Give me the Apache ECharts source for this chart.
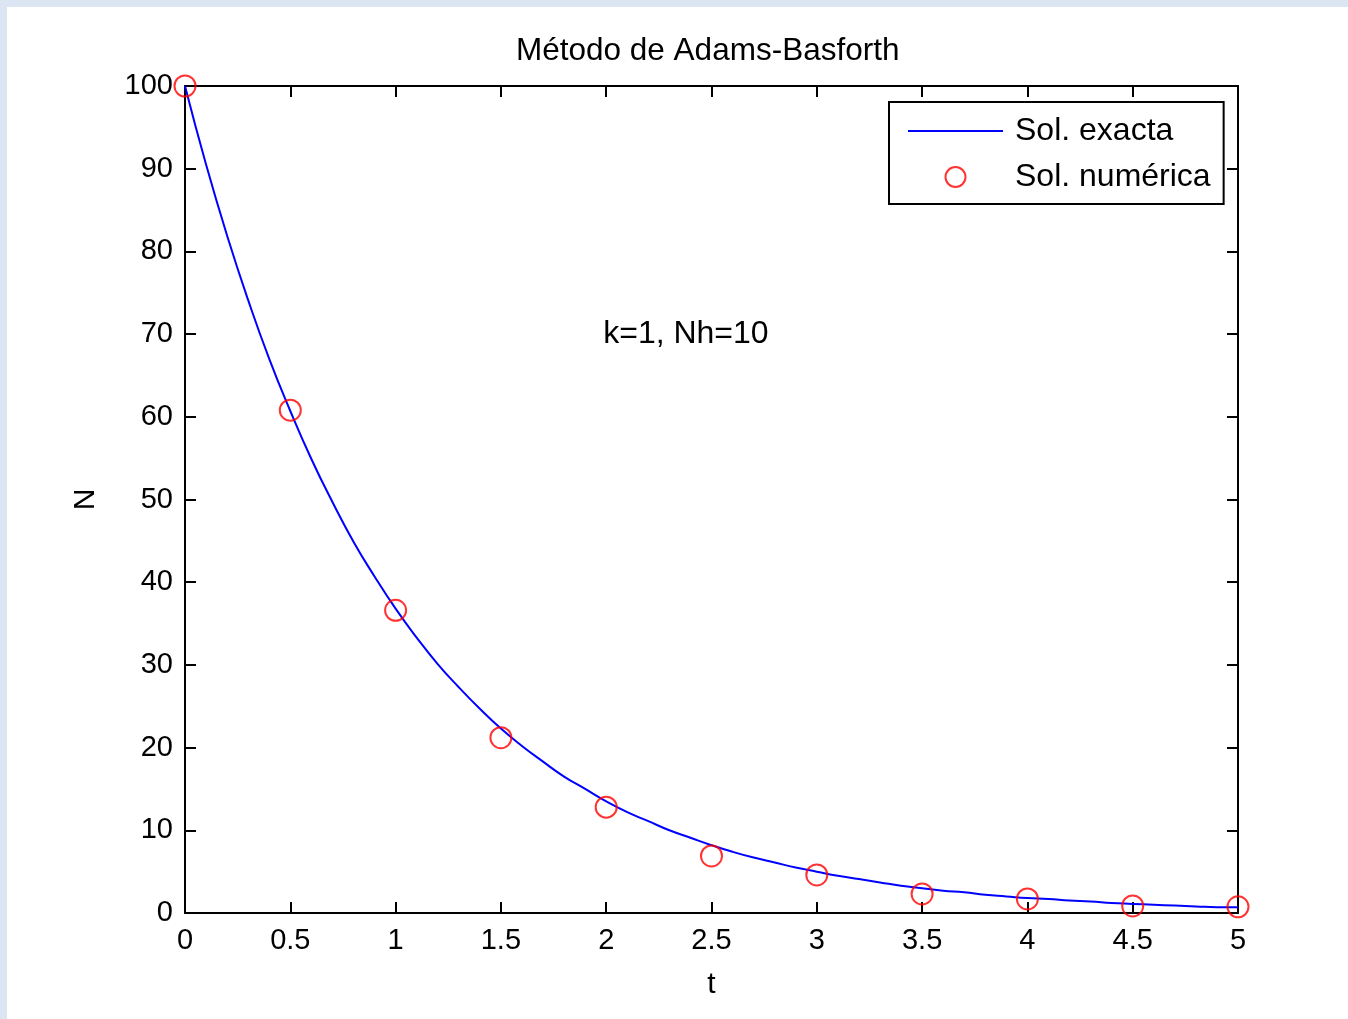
<!DOCTYPE html>
<html>
<head>
<meta charset="utf-8">
<script src="https://cdn.jsdelivr.net/npm/echarts@6/dist/echarts.min.js"></script>
<style>
html,body{margin:0;padding:0;width:1348px;height:1019px;background:#dce6f2;overflow:hidden;}
#frame{position:absolute;left:7px;top:7px;width:1341px;height:1012px;background:#fff;}
#chart{position:absolute;left:0;top:0;width:1348px;height:1019px;}
</style>
</head>
<body>
<div id="frame"></div>
<div id="chart"></div>
<script>
const tExact = [0,0.1,0.2,0.3,0.4,0.5,0.6,0.7,0.8,0.9,1.0,1.1,1.2,1.3,1.4,1.5,1.6,1.7,1.8,1.9,2.0,2.1,2.2,2.3,2.4,2.5,2.6,2.7,2.8,2.9,3.0,3.1,3.2,3.3,3.4,3.5,3.6,3.7,3.8,3.9,4.0,4.1,4.2,4.3,4.4,4.5,4.6,4.7,4.8,4.9,5.0];
const nExact = [100,90.5,81.9,74.1,67.0,60.7,54.9,49.7,44.9,40.7,36.8,33.3,30.1,27.3,24.7,22.3,20.2,18.3,16.5,15.0,13.5,12.2,11.1,10.0,9.1,8.2,7.4,6.7,6.1,5.5,5.0,4.5,4.1,3.7,3.3,3.0,2.7,2.5,2.2,2.0,1.8,1.7,1.5,1.4,1.2,1.1,1.0,0.9,0.8,0.7,0.7];
// Numerical solution (Adams-Bashforth), h = 0.5
const tNum = [0,0.5,1.0,1.5,2.0,2.5,3.0,3.5,4.0,4.5,5.0];
const nNum = [100,60.8,36.6,21.2,12.8,6.9,4.6,2.3,1.7,0.85,0.75];
const xTicks = [0,0.5,1,1.5,2,2.5,3,3.5,4,4.5,5];
const yTicks = [0,10,20,30,40,50,60,70,80,90,100];
const titleText = 'Método de Adams-Basforth';
const annotation = 'k=1, Nh=10';
const seriesNames = ['Sol. exacta','Sol. numérica'];

const FONT = '"Liberation Sans", Arial, sans-serif';
const TXT = '#000';
const chart = echarts.init(document.getElementById('chart'), null, {renderer:'canvas'});

function xAxisCfg(pos, labels){
  return {
    type:'value', position:pos, min:xTicks[0], max:xTicks[xTicks.length-1], interval:0.5,
    axisLine:{show:true,onZero:false,lineStyle:{color:'#000',width:2}},
    axisTick:{show:true,inside:true,length:11,lineStyle:{color:'#000',width:2}},
    axisLabel:{show:labels,color:TXT,fontFamily:FONT,fontSize:29,margin:13,
      formatter:v=>String(v)},
    splitLine:{show:false},
    name: labels ? 't' : '', nameLocation:'middle', nameGap:57,
    nameTextStyle:{color:TXT,fontFamily:FONT,fontSize:30}
  };
}
function yAxisCfg(pos, labels){
  return {
    type:'value', position:pos, min:yTicks[0], max:yTicks[yTicks.length-1], interval:10,
    axisLine:{show:true,onZero:false,lineStyle:{color:'#000',width:2}},
    axisTick:{show:true,inside:true,length:11,lineStyle:{color:'#000',width:2}},
    axisLabel:{show:labels,color:TXT,fontFamily:FONT,fontSize:29,margin:12},
    splitLine:{show:false},
    name: labels ? 'N' : '', nameLocation:'middle', nameGap:84, nameRotate:90,
    nameTextStyle:{color:TXT,fontFamily:FONT,fontSize:30}
  };
}

const option = {
  backgroundColor:'transparent',
  animation:false,
  title:{text:titleText,left:511,top:30,
    textStyle:{color:TXT,fontFamily:FONT,fontSize:31.5,fontWeight:'normal'}},
  grid:{left:185,right:110,top:86,bottom:106,containLabel:false},
  xAxis:[xAxisCfg('bottom',true), xAxisCfg('top',false)],
  yAxis:[yAxisCfg('left',true), yAxisCfg('right',false)],
  legend:{
    left:889, top:102, orient:'vertical',
    backgroundColor:'#fff', borderColor:'#000', borderWidth:2,
    padding:[13,13,11,19], itemGap:14, itemWidth:95, itemHeight:20,
    textStyle:{color:TXT,fontFamily:FONT,fontSize:32,lineHeight:30,padding:[0,0,0,7]},
    data:[
      {name:seriesNames[0], icon:'path://M0,0H95V2H0Z', itemStyle:{color:'#0000ff'}},
      {name:seriesNames[1]}
    ]
  },
  series:[
    {name:seriesNames[0], type:'line', xAxisIndex:0, yAxisIndex:0,
     data:tExact.map((t,i)=>[t,nExact[i]]),
     symbol:'none', smooth:true,
     lineStyle:{color:'#0000ff',width:2}, itemStyle:{color:'#0000ff'}, z:2},
    {name:seriesNames[1], type:'scatter', xAxisIndex:0, yAxisIndex:0,
     data:tNum.map((t,i)=>[t,nNum[i]]),
     symbol:'circle', symbolSize:21,
     itemStyle:{color:'rgba(0,0,0,0)',borderColor:'#ff0000',borderWidth:2}, z:3,
     markPoint:{symbol:'circle',symbolSize:0,
       data:[{coord:[2,70]}],
       label:{show:true,position:'right',distance:0,offset:[-3,0],formatter:annotation,
         color:TXT,fontFamily:FONT,fontSize:32}}}
  ]
};
chart.setOption(option);
</script>
</body>
</html>
